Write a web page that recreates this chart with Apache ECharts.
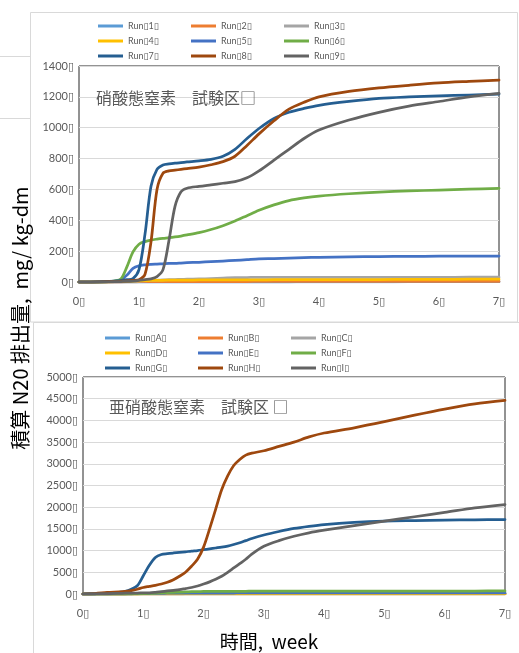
<!DOCTYPE html>
<html>
<head>
<meta charset="utf-8">
<script src="https://cdn.jsdelivr.net/npm/echarts@6/dist/echarts.min.js"></script>
<style>
  html, body { margin: 0; padding: 0; background: #fff; }
  #chart { width: 519px; height: 653px; }
</style>
</head>
<body>
<div id="chart"></div>
<script>
// Glyph that stands in for the unrenderable characters in the source labels
const BOX = '\u25AF';

// ---- Nitrate plot (硝酸態窒素) : cumulative N2O, mg/kg-dm, by week ----
const weeksN = [0, 0.2, 0.4, 0.6, 0.7, 0.8, 0.9, 1.0, 1.1, 1.2, 1.3, 1.4, 1.5, 1.6, 1.7, 1.8,
                2.0, 2.2, 2.4, 2.6, 2.8, 3.0, 3.25, 3.5, 3.75, 4.0, 4.5, 5.0, 5.5, 6.0, 6.5, 7.0];
const namesN = ['Run' + BOX + '1' + BOX, 'Run' + BOX + '2' + BOX, 'Run' + BOX + '3' + BOX,
                'Run' + BOX + '4' + BOX, 'Run' + BOX + '5' + BOX, 'Run' + BOX + '6' + BOX,
                'Run' + BOX + '7' + BOX, 'Run' + BOX + '8' + BOX, 'Run' + BOX + '9' + BOX];
const run1 = [0, 0, 0, 0, 0, 0, 0, 0, 0, 0, 0, 0, 0, 0, 0, 0, 0, 0, 0, 0, 0, 0, 0, 0, 1, 1, 1, 1, 2, 2, 2, 2];
const run2 = [0, 0, 0, 0, 0, 1, 1, 2, 2, 2, 3, 3, 3, 3, 3, 3, 3, 3, 3, 3, 3, 4, 4, 4, 4, 4, 4, 4, 4, 4, 4, 4];
const run3 = [0, 0, 0, 0, 1, 2, 3, 5, 7, 10, 12, 13, 15, 16, 17, 18, 20, 22, 25, 28, 29, 30, 30, 30, 30, 30, 30, 30, 30, 30, 31, 31];
const run4 = [0, 0, 1, 2, 3, 4, 6, 8, 9, 10, 11, 11, 12, 12, 12, 12, 13, 13, 13, 14, 14, 14, 15, 15, 15, 15, 16, 16, 17, 17, 18, 18];
const run5 = [0, 0, 1, 5, 15, 45, 88, 105, 111, 114, 116, 118, 120, 121, 123, 125, 128, 132, 136, 140, 145, 150, 152, 155, 158, 160, 163, 165, 166, 167, 167, 168];
const run6 = [0, 0, 0, 8, 20, 100, 195, 245, 262, 272, 278, 283, 287, 292, 298, 305, 320, 340, 365, 395, 430, 465, 500, 528, 545, 557, 572, 583, 590, 596, 602, 607];
const run7 = [0, 0, 2, 6, 10, 15, 22, 80, 310, 620, 730, 758, 765, 770, 774, 778, 785, 795, 815, 860, 930, 995, 1060, 1100, 1125, 1145, 1170, 1190, 1200, 1207, 1212, 1218];
const run8 = [0, 0, 1, 3, 5, 7, 10, 15, 50, 260, 600, 705, 720, 725, 730, 735, 745, 760, 780, 815, 885, 960, 1045, 1120, 1165, 1200, 1235, 1258, 1275, 1290, 1300, 1309];
const run9 = [0, 0, 1, 2, 3, 4, 6, 10, 15, 20, 35, 80, 270, 490, 585, 608, 620, 630, 640, 650, 675, 720, 790, 860, 930, 985, 1050, 1100, 1140, 1170, 1200, 1222];

// ---- Nitrite plot (亜硝酸態窒素) ----
const weeksP = [0, 0.2, 0.4, 0.6, 0.7, 0.8, 0.9, 1.0, 1.1, 1.2, 1.3, 1.4, 1.5, 1.6, 1.7, 1.8, 1.9,
                2.0, 2.1, 2.2, 2.3, 2.4, 2.5, 2.6, 2.7, 2.8, 3.0, 3.25, 3.5, 3.75, 4.0, 4.5, 5.0, 5.5, 6.0, 6.5, 7.0];
const namesP = ['Run' + BOX + 'A' + BOX, 'Run' + BOX + 'B' + BOX, 'Run' + BOX + 'C' + BOX,
                'Run' + BOX + 'D' + BOX, 'Run' + BOX + 'E' + BOX, 'Run' + BOX + 'F' + BOX,
                'Run' + BOX + 'G' + BOX, 'Run' + BOX + 'H' + BOX, 'Run' + BOX + 'I' + BOX];
const runA = [0, 0, 0, 0, 0, 0, 1, 1, 1, 1, 1, 1, 2, 2, 2, 2, 2, 2, 2, 2, 2, 2, 2, 2, 2, 2, 3, 3, 3, 3, 3, 3, 3, 3, 3, 3, 3];
const runB = [0, 0, 0, 0, 0, 1, 1, 1, 2, 2, 2, 2, 2, 3, 3, 3, 3, 3, 3, 3, 3, 3, 3, 3, 3, 3, 4, 4, 4, 4, 4, 4, 4, 4, 4, 4, 4];
const runC = [0, 0, 0, 1, 1, 2, 2, 3, 3, 4, 4, 5, 5, 5, 6, 6, 6, 6, 6, 7, 7, 7, 7, 7, 7, 7, 8, 8, 8, 8, 8, 8, 8, 8, 8, 8, 8];
const runD = [0, 0, 0, 0, 0, 0, 0, 1, 1, 1, 1, 1, 1, 1, 1, 1, 1, 1, 1, 1, 1, 1, 1, 1, 1, 1, 1, 1, 1, 1, 1, 1, 1, 1, 1, 1, 1];
const runE = [0, 0, 0, 2, 3, 5, 7, 10, 12, 14, 16, 18, 20, 20, 21, 21, 22, 22, 22, 23, 23, 23, 23, 24, 24, 24, 24, 24, 25, 25, 25, 25, 25, 25, 25, 25, 25];
const runF = [0, 0, 0, 0, 0, 1, 3, 6, 12, 20, 28, 34, 40, 44, 48, 52, 56, 58, 60, 61, 62, 62, 63, 63, 63, 64, 64, 65, 65, 66, 66, 67, 67, 68, 68, 69, 70];
const runG = [0, 5, 15, 40, 60, 110, 190, 420, 660, 840, 910, 930, 945, 958, 972, 988, 1000, 1020, 1040, 1060, 1080, 1105, 1140, 1180, 1230, 1280, 1360, 1440, 1510, 1560, 1600, 1650, 1680, 1692, 1702, 1710, 1715];
const runH = [0, 10, 35, 50, 60, 80, 110, 150, 175, 200, 230, 270, 330, 410, 500, 640, 800, 1080, 1500, 1950, 2400, 2720, 2960, 3100, 3200, 3245, 3300, 3400, 3500, 3620, 3710, 3830, 3970, 4120, 4260, 4380, 4460];
const runI = [0, 5, 10, 15, 18, 20, 22, 25, 28, 40, 55, 70, 85, 100, 125, 150, 185, 230, 280, 340, 410, 500, 600, 700, 800, 920, 1100, 1230, 1330, 1410, 1470, 1575, 1680, 1780, 1880, 1985, 2062];

// Axis tick values
const xTicks = [0, 1, 2, 3, 4, 5, 6, 7];
const yTicksN = [0, 200, 400, 600, 800, 1000, 1200, 1400];
const yTicksP = [0, 500, 1000, 1500, 2000, 2500, 3000, 3500, 4000, 4500, 5000];

const seriesColors = ['#5B9BD5', '#ED7D31', '#A5A5A5', '#FFC000', '#4472C4', '#70AD47', '#255E91', '#9E480E', '#636363'];

const nitrateRuns = [run1, run2, run3, run4, run5, run6, run7, run8, run9];
const nitriteRuns = [runA, runB, runC, runD, runE, runF, runG, runH, runI];

const tickFont = { color: '#595959', fontSize: 11, fontFamily: 'Lato, "DejaVu Sans", sans-serif' };

function pairs(xs, ys) { return xs.map((x, i) => [x, ys[i]]); }

function makeSeries(names, runs, xs, gridIdx) {
  return runs.map((vals, i) => ({
    name: names[i],
    type: 'line',
    xAxisIndex: gridIdx,
    yAxisIndex: gridIdx,
    data: pairs(xs, vals),
    showSymbol: false,
    symbol: 'none',
    smooth: 0.3,
    lineStyle: { width: 2.75, color: seriesColors[i], cap: 'round', join: 'round' },
    itemStyle: { color: seriesColors[i] },
    emphasis: { disabled: true },
    animation: false
  }));
}

function makeXAxis(gridIdx) {
  return {
    type: 'value', gridIndex: gridIdx, min: xTicks[0], max: xTicks[xTicks.length - 1], interval: 1,
    axisLine: { show: true, lineStyle: { color: '#595959', width: 2 } },
    axisTick: { show: false },
    splitLine: { show: false },
    axisLabel: Object.assign({ margin: 14, formatter: v => v + BOX }, tickFont)
  };
}

function makeYAxis(gridIdx, ticks) {
  return {
    type: 'value', gridIndex: gridIdx, min: ticks[0], max: ticks[ticks.length - 1],
    interval: ticks[1] - ticks[0],
    axisLine: { show: false },
    axisTick: { show: false },
    splitLine: { show: true, lineStyle: { color: '#d9d9d9', width: 1 } },
    axisLabel: Object.assign({ margin: 5, formatter: v => v + BOX }, tickFont)
  };
}

function makeLegend(names, left, top) {
  return {
    data: names,
    left: left, top: top,
    width: 285,
    orient: 'horizontal',
    icon: 'rect',
    itemWidth: 25, itemHeight: 3,
    itemGap: 5,
    padding: 0,
    selectedMode: false,
    textStyle: { color: '#595959', fontSize: 9, width: 58, lineHeight: 10,
                 fontFamily: 'Lato, "DejaVu Sans", sans-serif', padding: [0, 0, 0, 0] }
  };
}

const chart = echarts.init(document.getElementById('chart'), null, { renderer: 'canvas' });

chart.setOption({
  animation: false,
  backgroundColor: '#ffffff',
  grid: [
    { left: 79, top: 66, width: 420, height: 216, show: true, borderColor: '#262626', borderWidth: 1, backgroundColor: 'transparent' },
    { left: 83, top: 377, width: 422, height: 217, show: true, borderColor: '#262626', borderWidth: 1, backgroundColor: 'transparent' }
  ],
  xAxis: [makeXAxis(0), makeXAxis(1)],
  yAxis: [makeYAxis(0, yTicksN), makeYAxis(1, yTicksP)],
  legend: [makeLegend(namesN, 98, 21), makeLegend(namesP, 105, 333)],
  graphic: [
    // chart-area frames and neighbouring sheet lines
    { type: 'rect', z: -10, shape: { x: 30.5, y: 12.5, width: 487, height: 309.5 },
      style: { fill: 'none', stroke: '#d9d9d9', lineWidth: 1 } },
    { type: 'polyline', z: -10, shape: { points: [[33.5, 653], [33.5, 322.5], [519, 322.5]] },
      style: { fill: 'none', stroke: '#d9d9d9', lineWidth: 1 } },
    { type: 'line', z: -10, shape: { x1: 0, y1: 56.5, x2: 30, y2: 56.5 }, style: { stroke: '#d9d9d9', lineWidth: 1 } },
    { type: 'line', z: -10, shape: { x1: 0, y1: 118.5, x2: 30, y2: 118.5 }, style: { stroke: '#d9d9d9', lineWidth: 1 } },
    // in-plot titles
    { type: 'text', x: 96, y: 98, z: 10,
      style: { text: '硝酸態窒素　試験区□', fill: '#595959', font: '16px "Noto Sans CJK JP"', verticalAlign: 'middle' } },
    { type: 'text', x: 109, y: 407, z: 10,
      style: { text: '亜硝酸態窒素　試験区 □', fill: '#595959', font: '16px "Noto Sans CJK JP"', verticalAlign: 'middle' } },
    // shared axis names
    { type: 'text', x: 20, y: 318, rotation: Math.PI / 2, z: 10,
      style: { text: '積算 N20 排出量,  mg/ kg-dm', fill: '#000', font: '20px "Noto Sans CJK JP"',
               align: 'center', verticalAlign: 'middle', backgroundColor: '#fff' } },
    { type: 'text', x: 269, y: 642, z: 10,
      style: { text: '時間,  week', fill: '#000', font: '19px "Noto Sans CJK JP"', align: 'center', verticalAlign: 'middle' } }
  ],
  series: makeSeries(namesN, nitrateRuns, weeksN, 0).concat(makeSeries(namesP, nitriteRuns, weeksP, 1))
});
</script>
</body>
</html>
